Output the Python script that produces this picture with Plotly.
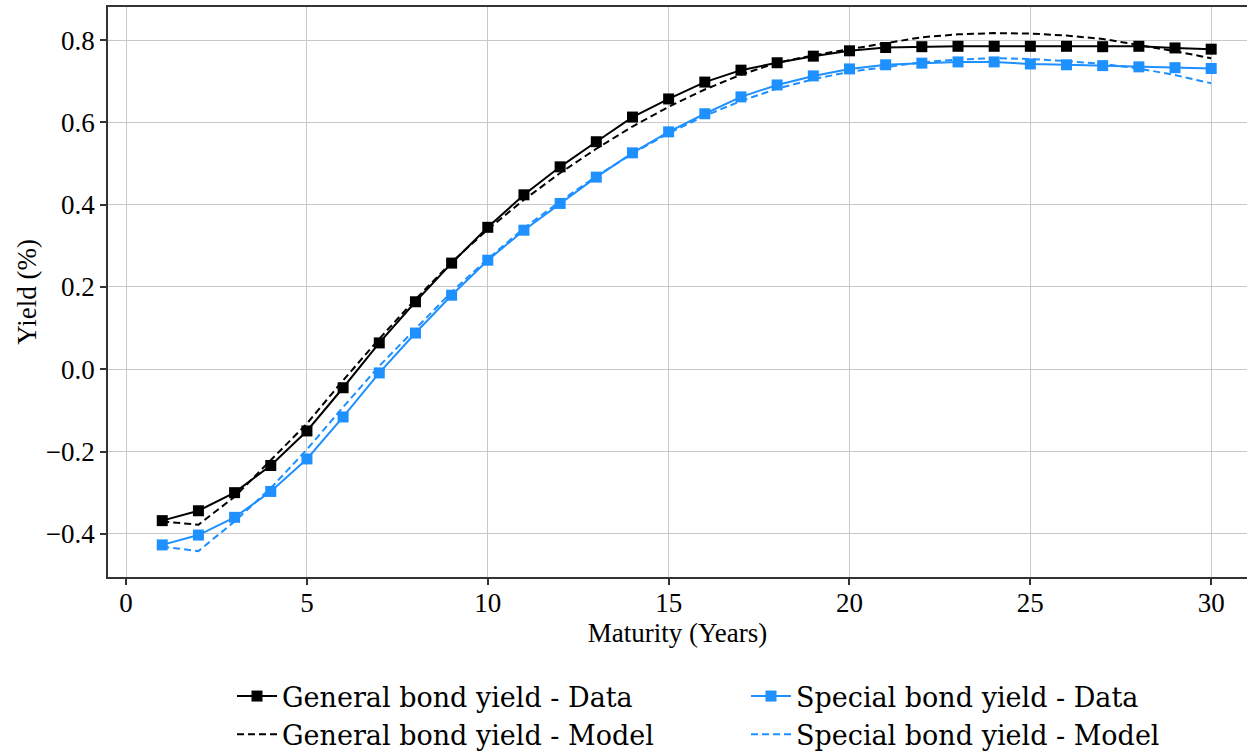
import plotly.graph_objects as go

maturity = list(range(1, 31))

general_data = [-0.368, -0.344, -0.300, -0.234, -0.150, -0.045, 0.064, 0.164, 0.258, 0.345,
                0.424, 0.492, 0.553, 0.613, 0.657, 0.698, 0.727, 0.745, 0.761, 0.774,
                0.782, 0.784, 0.785, 0.785, 0.785, 0.785, 0.784, 0.785, 0.781, 0.778]
general_model = [-0.370, -0.378, -0.310, -0.222, -0.132, -0.027, 0.074, 0.170, 0.260, 0.340,
                 0.412, 0.477, 0.536, 0.590, 0.638, 0.680, 0.716, 0.745, 0.763, 0.778,
                 0.792, 0.807, 0.814, 0.817, 0.816, 0.811, 0.803, 0.788, 0.773, 0.756]
special_data = [-0.427, -0.403, -0.360, -0.297, -0.218, -0.116, -0.009, 0.088, 0.180, 0.265,
                0.338, 0.403, 0.467, 0.526, 0.577, 0.621, 0.662, 0.691, 0.713, 0.730,
                0.740, 0.744, 0.747, 0.747, 0.742, 0.740, 0.738, 0.735, 0.733, 0.731]
special_model = [-0.431, -0.442, -0.370, -0.289, -0.195, -0.092, 0.008, 0.098, 0.188, 0.268,
                 0.343, 0.408, 0.469, 0.524, 0.574, 0.616, 0.652, 0.682, 0.705, 0.723,
                 0.735, 0.746, 0.753, 0.756, 0.754, 0.749, 0.742, 0.731, 0.715, 0.695]

BLACK = "#000000"
BLUE = "#1e90ff"
SERIF = "Liberation Serif, Times New Roman, serif"

fig = go.Figure()
fig.add_trace(go.Scatter(x=maturity, y=general_data, mode="lines+markers",
                         name="General bond yield - Data", legend="legend", legendgroup="a",
                         line=dict(color=BLACK, width=2),
                         marker=dict(symbol="square", size=11, color=BLACK)))
fig.add_trace(go.Scatter(x=maturity, y=general_model, mode="lines",
                         name="General bond yield - Model", legend="legend", legendgroup="b",
                         line=dict(color=BLACK, width=2, dash="7px,4px")))
fig.add_trace(go.Scatter(x=maturity, y=special_data, mode="lines+markers",
                         name="Special bond yield - Data", legend="legend2", legendgroup="c",
                         line=dict(color=BLUE, width=2),
                         marker=dict(symbol="square", size=11, color=BLUE)))
fig.add_trace(go.Scatter(x=maturity, y=special_model, mode="lines",
                         name="Special bond yield - Model", legend="legend2", legendgroup="d",
                         line=dict(color=BLUE, width=2, dash="7px,4px")))

legend_font = dict(family="DejaVu Serif", size=27, color="#000")
common_legend = dict(orientation="v", xref="paper", yref="container",
                     xanchor="left", yanchor="top", font=legend_font,
                     bgcolor="rgba(0,0,0,0)", tracegroupgap=0, itemwidth=40)

axis_font = dict(family=SERIF, size=27, color="#000")
title_font = dict(family=SERIF, size=27, color="#000")
fig.update_layout(
    width=1247, height=755,
    margin=dict(l=108, r=0, t=7, b=178),
    plot_bgcolor="white", paper_bgcolor="white",
    showlegend=True,
    legend=dict(x=(232 - 108) / 1139, y=(755 - 672) / 755, **common_legend),
    legend2=dict(x=(746 - 108) / 1139, y=(755 - 672) / 755, **common_legend),
    xaxis=dict(range=[-0.5, 30.99], tickvals=[0, 5, 10, 15, 20, 25, 30],
               showgrid=True, gridcolor="#c8c8c8", gridwidth=1.2,
               showline=True, linecolor="#333", linewidth=1.5, mirror=True,
               ticks="outside", ticklen=6, tickcolor="#333", tickwidth=1.5,
               tickfont=axis_font, zeroline=False, ticklabelstandoff=-5,
               title=dict(text="Maturity (Years)", font=title_font, standoff=4)),
    yaxis=dict(range=[-0.505, 0.8805], tickvals=[-0.4, -0.2, 0.0, 0.2, 0.4, 0.6, 0.8],
               ticktext=["\u22120.4", "\u22120.2", "0.0", "0.2", "0.4", "0.6", "0.8"],
               showgrid=True, gridcolor="#c8c8c8", gridwidth=1.2,
               showline=True, linecolor="#333", linewidth=1.5, mirror=False,
               ticks="outside", ticklen=6, tickcolor="#333", tickwidth=1.5,
               tickfont=axis_font, zeroline=False,
               title=dict(text="Yield (%)", font=title_font, standoff=1)),
)

fig.write_html("out.html")
